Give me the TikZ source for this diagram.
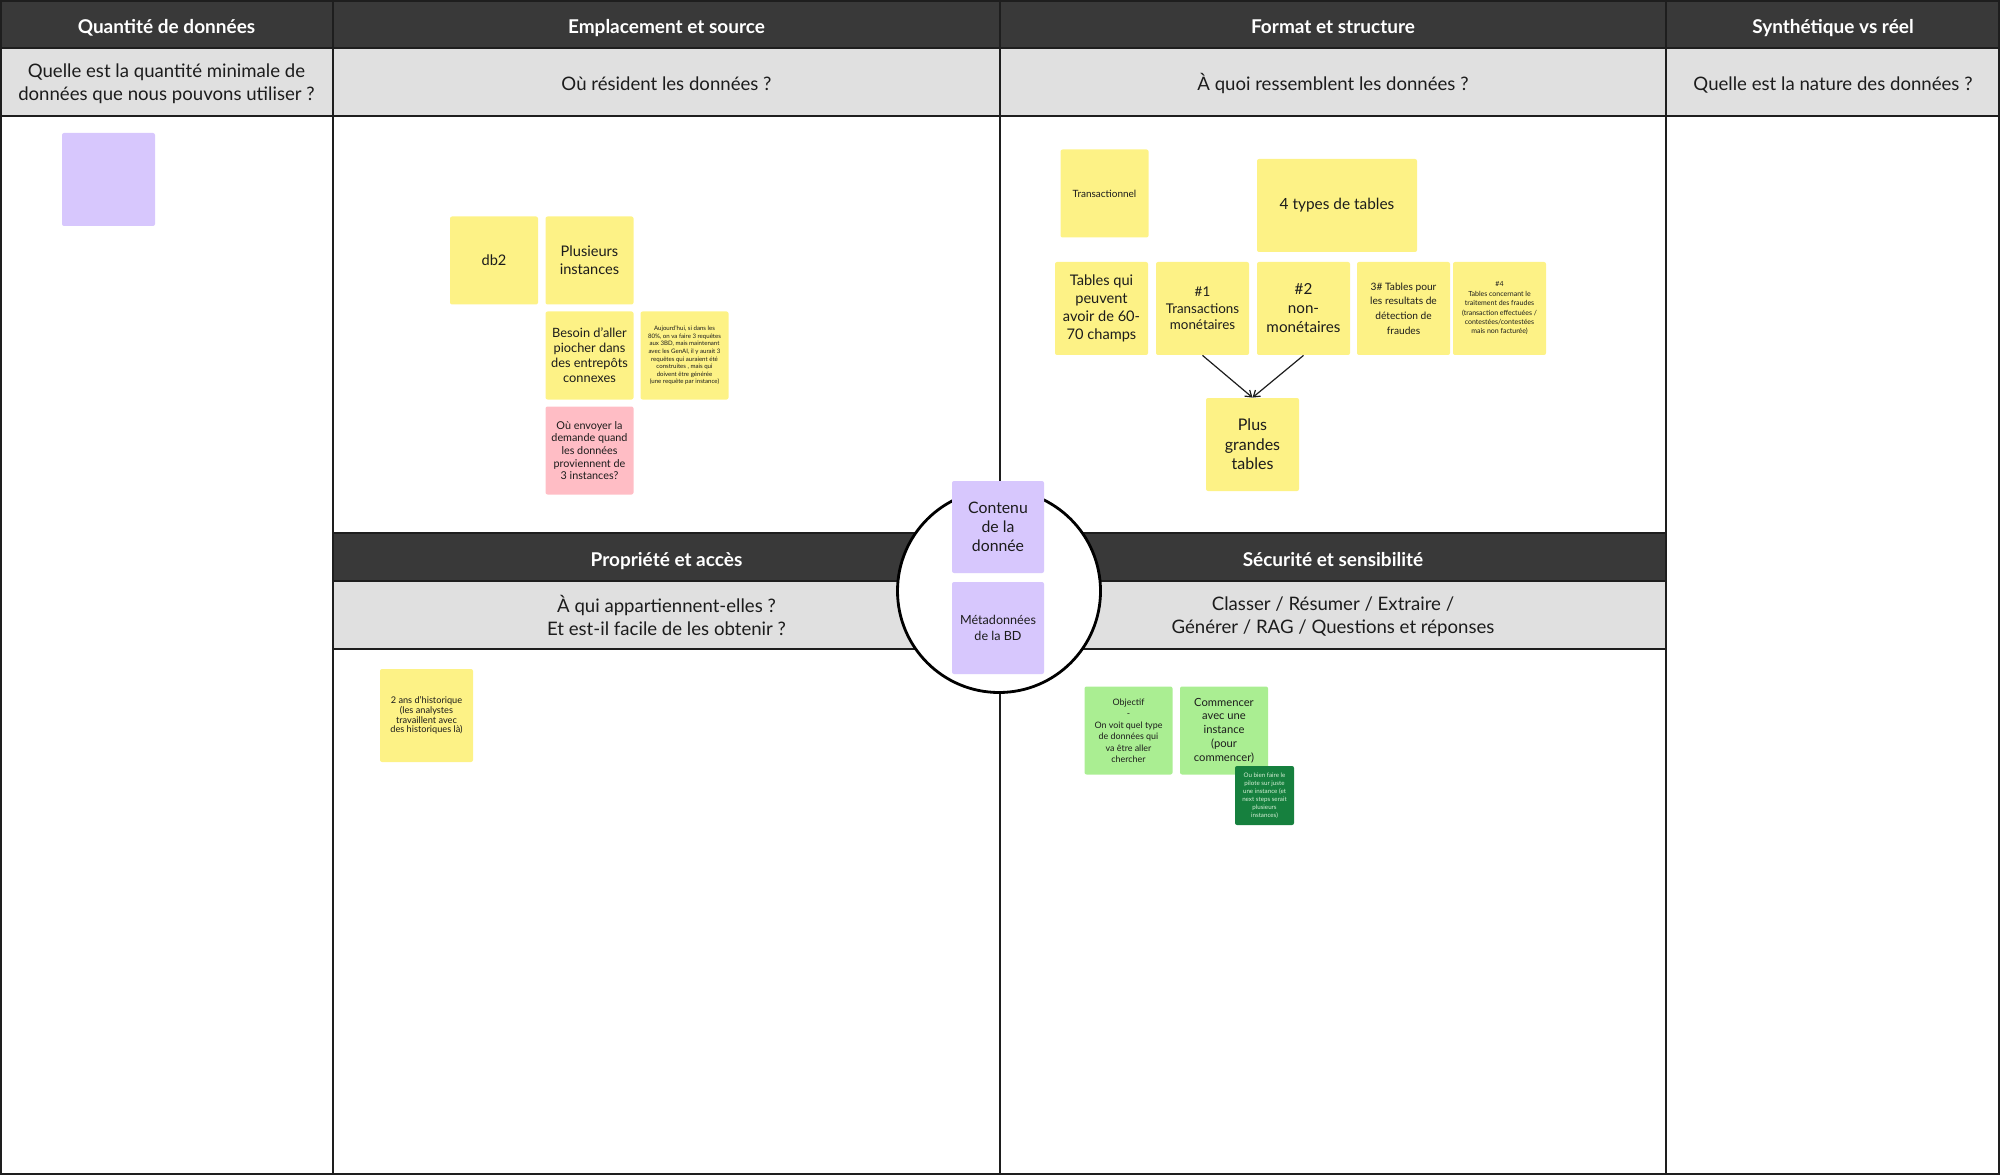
\documentclass[tikz,border=0pt]{standalone}
\usepackage{fontspec}
\setmainfont{Lato}
\usepackage{tikz}
\usetikzlibrary{arrows.meta, positioning}

\definecolor{barDark}{RGB}{57,57,57}
\definecolor{barLight}{RGB}{224,224,224}
\definecolor{lineDark}{RGB}{30,30,30}
\definecolor{inkDark}{RGB}{28,28,28}
\definecolor{noteYellow}{RGB}{253,242,134}
\definecolor{notePurple}{RGB}{215,199,253}
\definecolor{notePink}{RGB}{255,189,197}
\definecolor{noteGreen}{RGB}{170,238,146}
\definecolor{noteDeep}{RGB}{22,128,62}
\definecolor{inkPale}{RGB}{214,240,214}

\begin{document}
\begin{tikzpicture}[x=0.5pt, y=-0.5pt,
    grid/.style={draw=lineDark, line width=1pt},
    head/.style={text=white, text height=7pt, text depth=2pt, font=\bfseries\fontsize{9.5}{11}\selectfont},
    ask/.style={text=inkDark, align=center, font=\fontsize{9.3}{11.5}\selectfont},
    oneline/.style={text height=7pt, text depth=2pt},
    note/.style={rounded corners=1pt, inner sep=0pt, minimum width=44pt, minimum height=44pt, align=center, text=inkDark},
    bignote/.style={note, minimum width=46.5pt, minimum height=46.5pt},
    hub/.style={circle, draw=black, line width=1.4pt, fill=white, minimum size=101.5pt, inner sep=0pt},
    link/.style={draw=inkDark, line width=0.6pt, -{Straight Barb[length=3pt, width=4pt]}}]

    \useasboundingbox (0,0) rectangle (2000,1176);

    \fill[barDark] (1,1) rectangle (1999,48);
    \fill[barLight] (1,48) rectangle (1999,116);
    \fill[barDark] (333,533) rectangle (1666,581);
    \fill[barLight] (333,581) rectangle (1666,649);

    \draw[grid] (1,1) rectangle (1999,1174);
    \draw[grid] (1,48) -- (1999,48);
    \draw[grid] (1,116) -- (1999,116);
    \draw[grid] (333,1) -- (333,1174);
    \draw[grid] (1000,1) -- (1000,1174);
    \draw[grid] (1666,1) -- (1666,1174);
    \draw[grid] (333,533) -- (1666,533);
    \draw[grid] (333,581) -- (1666,581);
    \draw[grid] (333,649) -- (1666,649);

    \node[head] (hQty) at (166.5,29) {Quantité de données};
    \node[head] (hLoc) at (666.5,29) {Emplacement et source};
    \node[head] (hFmt) at (1333,29) {Format et structure};
    \node[head] (hSyn) at (1833,29) {Synthétique vs réel};
    \node[head] (hOwn) at (666.5,561) {Propriété et accès};
    \node[head] (hSec) at (1333,561) {Sécurité et sensibilité};

    \node[ask] (qQty) at (166.5,84) {Quelle est la quantité minimale de\\données que nous pouvons utiliser ?};
    \node[ask, oneline] (qLoc) at (666.5,86) {Où résident les données ?};
    \node[ask, oneline] (qFmt) at (1333,86) {À quoi ressemblent les données ?};
    \node[ask, oneline] (qSyn) at (1833,86) {Quelle est la nature des données ?};
    \node[ask] (qOwn) at (666.5,615) {À qui appartiennent-elles ?\\Et est-il facile de les obtenir ?};
    \node[ask] (qSec) at (1333,617) {Classer / Résumer / Extraire /\\Générer / RAG / Questions et réponses};

    \node[hub] (hub) at (999,591) {};
    \node[note, fill=notePurple, minimum width=46pt, minimum height=46pt, font=\fontsize{7.9}{9.5}\selectfont] (contenu) at (998,527) {Contenu\\de la\\donnée};
    \node[note, fill=notePurple, minimum width=46pt, minimum height=46pt, font=\fontsize{6.3}{7.8}\selectfont] (meta) at (998,628) {Métadonnées\\de la BD};

    \node[bignote, fill=notePurple] (qtyNote) at (108.5,179.5) {};

    \node[note, fill=noteYellow, font=\fontsize{7.3}{9}\selectfont] (db) at (494,260.5) {db2};
    \node[note, fill=noteYellow, font=\fontsize{7.3}{9}\selectfont] (instances) at (589.5,260.5) {Plusieurs\\instances};
    \node[note, fill=noteYellow, font=\fontsize{6.4}{7.5}\selectfont] (besoin) at (589.5,355.5) {Besoin d'aller\\piocher dans\\des entrepôts\\connexes};
    \node[note, fill=noteYellow, font=\fontsize{3.05}{3.8}\selectfont] (today) at (684.5,355.5) {Aujourd'hui, si dans les\\80\%, on va faire 3 requêtes\\aux 3BD, mais maintenant\\avec les GenAI, il y aurait 3\\requêtes qui auraient été\\construites , mais qui\\doivent être générée\\(une requête par instance)};
    \node[note, fill=notePink, font=\fontsize{5.4}{6.3}\selectfont] (envoyer) at (589.5,450.5) {Où envoyer la\\demande quand\\les données\\proviennent de\\3 instances?};

    \node[note, fill=noteYellow, font=\fontsize{5}{6}\selectfont] (transac) at (1104.5,193.5) {Transactionnel};
    \node[bignote, fill=noteYellow, minimum width=80pt, font=\fontsize{7.7}{9}\selectfont] (types) at (1337,205.5) {4 types de tables};
    \node[bignote, fill=noteYellow, font=\fontsize{7.3}{9}\selectfont] (champs) at (1101.5,308.5) {Tables qui\\peuvent\\avoir de 60-\\70 champs};
    \node[bignote, fill=noteYellow, font=\fontsize{6.7}{8.3}\selectfont] (t1) at (1202.5,308.5) {\#1\\Transactions\\monétaires};
    \node[bignote, fill=noteYellow, font=\fontsize{7.6}{9.5}\selectfont] (t2) at (1303.5,308.5) {\#2\\non-\\monétaires};
    \node[bignote, fill=noteYellow, font=\fontsize{5.1}{7.3}\selectfont] (t3) at (1403.5,308.5) {3\# Tables pour\\les resultats de\\détection de\\fraudes};
    \node[bignote, fill=noteYellow, font=\fontsize{3.5}{4.7}\selectfont] (t4) at (1499.5,308.5) {\#4\\Tables concernant le\\traitement des fraudes\\(transaction effectuées /\\contestées/contestées\\mais non facturée)};
    \node[bignote, fill=noteYellow, font=\fontsize{8}{9.7}\selectfont] (bigger) at (1252.5,444.5) {Plus\\grandes\\tables};

    \draw[link] (t1.south) -- (bigger.north);
    \draw[link] (t2.south) -- (bigger.north);

    \node[bignote, fill=noteYellow, font=\fontsize{4.6}{4.8}\selectfont] (histo) at (426.5,715.5) {2 ans d'historique\\(les analystes\\travaillent avec\\des historiques là)};

    \node[note, fill=noteGreen, font=\fontsize{4.45}{5.75}\selectfont] (goal) at (1128.5,730.5) {Objectif\\-\\On voit quel type\\de données qui\\va être aller\\chercher};
    \node[note, fill=noteGreen, font=\fontsize{5.6}{6.9}\selectfont] (start) at (1224,730.5) {Commencer\\avec une\\instance\\(pour\\commencer)};
    \node[note, fill=noteDeep, text=inkPale, minimum width=29.5pt, minimum height=29.5pt, font=\fontsize{3.1}{4}\selectfont] (pilot) at (1264.5,795.5) {Ou bien faire le\\pilote sur juste\\une instance (et\\next steps serait\\plusieurs\\instances)};
\end{tikzpicture}
\end{document}
